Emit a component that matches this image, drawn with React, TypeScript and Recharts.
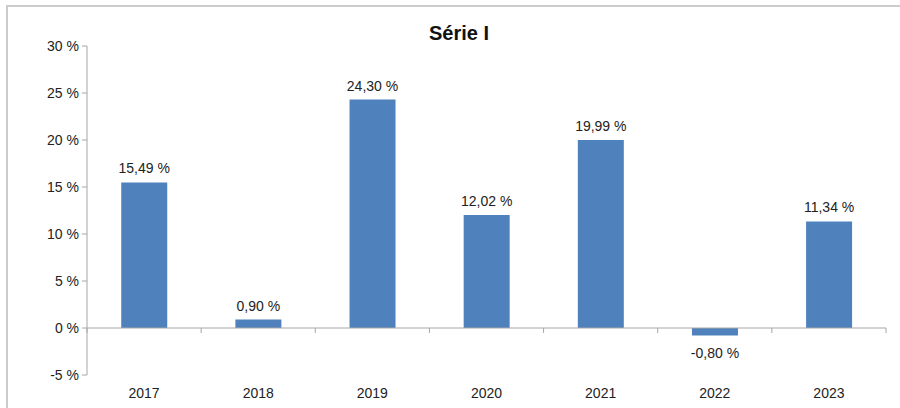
import { BarChart, Bar, XAxis, YAxis, ReferenceLine, LabelList } from 'recharts';

const years = ['2017', '2018', '2019', '2020', '2021', '2022', '2023'];
const serieI = [15.49, 0.9, 24.3, 12.02, 19.99, -0.8, 11.34];
const yTicks = [-5, 0, 5, 10, 15, 20, 25, 30];

const data = years.map((year, i) => ({ year, value: serieI[i] }));

const FONT = '"Liberation Sans", Arial, sans-serif';
const AXIS = '#A6A6A6';

const fmt = (v: number) => `${v.toFixed(2).replace('.', ',')} %`;

function ValueLabel(props: any) {
  const { x, y, width, height, value } = props;
  const neg = value < 0;
  const cx = x + width / 2;
  const top = Math.min(y, y + height);
  const bottom = Math.max(y, y + height);
  return (
    <text
      x={cx}
      y={neg ? bottom + 22 : top - 9}
      textAnchor="middle"
      fontSize={14}
      fontFamily={FONT}
      fill="#222"
    >
      {fmt(value)}
    </text>
  );
}

function ZeroAxis(props: any) {
  const { x1, x2, y1 } = props;
  const step = (x2 - x1) / years.length;
  const ticks = [];
  for (let i = 0; i <= years.length; i++) {
    const tx = x1 + step * i;
    ticks.push(<line key={i} x1={tx} x2={tx} y1={y1} y2={y1 + 5} stroke={AXIS} />);
  }
  return (
    <g>
      <line x1={x1} x2={x2} y1={y1} y2={y1} stroke={AXIS} />
      {ticks}
    </g>
  );
}

export default function App() {
  return (
    <div style={{ position: 'absolute', left: 0, top: 0, width: 900, height: 408, background: '#fff', overflow: 'hidden' }}>
      <div
        style={{
          position: 'absolute',
          left: 6,
          top: 5,
          width: 920,
          height: 420,
          borderLeft: '2px solid #CCCCCC',
          borderTop: '2px solid #CCCCCC',
        }}
      />
      <div
        style={{
          position: 'absolute',
          left: 0,
          top: 22,
          width: 918,
          textAlign: 'center',
          fontFamily: FONT,
          fontWeight: 'bold',
          fontSize: 20,
          color: '#111',
        }}
      >
        Série I
      </div>
      <div style={{ position: 'absolute', left: 0, top: 0 }}>
        <BarChart
          width={900}
          height={408}
          data={data}
          margin={{ top: 46, right: 14, left: 0, bottom: 3 }}
          barCategoryGap="30%"
        >
          <XAxis
            dataKey="year"
            axisLine={false}
            tickLine={false}
            height={30}
            tickMargin={7}
            tick={{ fontSize: 14, fontFamily: FONT, fill: '#222' }}
          />
          <YAxis
            width={87}
            domain={[-5, 30]}
            ticks={yTicks}
            interval={0}
            tickFormatter={(v: number) => `${v} %`}
            stroke={AXIS}
            tickSize={5}
            tickMargin={3}
            tick={{ fontSize: 14, fontFamily: FONT, fill: '#222' }}
          />
          <Bar dataKey="value" fill="#4F81BD" isAnimationActive={false}>
            <LabelList dataKey="value" content={<ValueLabel />} />
          </Bar>
          <ReferenceLine y={0} shape={<ZeroAxis />} />
        </BarChart>
      </div>
    </div>
  );
}
